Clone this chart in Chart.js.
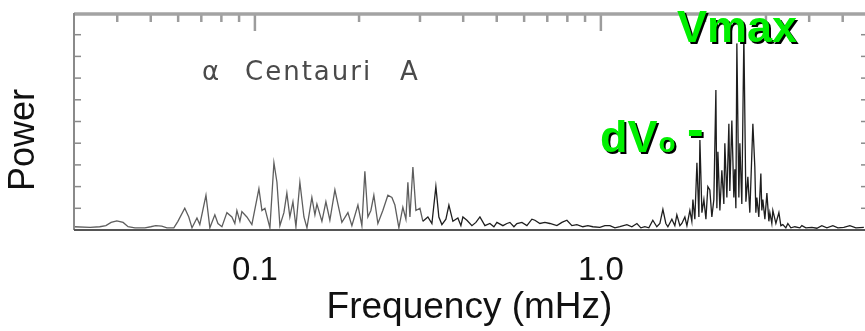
<!DOCTYPE html>
<html>
<head>
<meta charset="utf-8">
<script src="https://cdn.jsdelivr.net/npm/chart.js@4.4.1/dist/chart.umd.min.js"></script>
<style>
    html, body { margin: 0; padding: 0; background: #fff; }
    #wrap { width: 865px; height: 331px; }
</style>
</head>
<body>
<div id="wrap">
    <canvas id="chart" width="865" height="331"></canvas>
</div>
<script>
    // frequency in mHz
    const freq = [
        0.0300, 0.0334, 0.0356, 0.0371, 0.0384, 0.0399, 0.0416, 0.0430, 0.0450, 0.0481,
        0.0500, 0.0517, 0.0538, 0.0557, 0.0583, 0.0599, 0.0627, 0.0644, 0.0658, 0.0680,
        0.0693, 0.0722, 0.0741, 0.0766, 0.0782, 0.0803, 0.0830, 0.0858, 0.0875, 0.0887,
        0.0905, 0.0917, 0.0948, 0.0980, 0.1027, 0.1048, 0.1069, 0.1105, 0.1135, 0.1158,
        0.1181, 0.1213, 0.1237, 0.1262, 0.1288, 0.1314, 0.1349, 0.1386, 0.1414, 0.1461,
        0.1491, 0.1511, 0.1562, 0.1604, 0.1647, 0.1703, 0.1737, 0.1784, 0.1857, 0.1907,
        0.1985, 0.2038, 0.2079, 0.2121, 0.2164, 0.2207, 0.2267, 0.2343, 0.2423, 0.2489,
        0.2539, 0.2607, 0.2677, 0.2732, 0.2768, 0.2806, 0.2862, 0.2920, 0.2999, 0.3059,
        0.3162, 0.3248, 0.3335, 0.3402, 0.3471, 0.3565, 0.3637, 0.3735, 0.3861, 0.3939,
        0.3992, 0.4100, 0.4239, 0.4353, 0.4471, 0.4622, 0.4778, 0.4907, 0.5006, 0.5210,
        0.5350, 0.5458, 0.5606, 0.5718, 0.5912, 0.6112, 0.6319, 0.6446, 0.6664, 0.6890,
        0.7123, 0.7462, 0.7715, 0.7976, 0.8246, 0.8524, 0.8872, 0.9171, 0.9482, 0.9934,
        1.027, 1.062, 1.098, 1.135, 1.189, 1.229, 1.271, 1.305, 1.340, 1.376,
        1.413, 1.451, 1.481, 1.511, 1.541, 1.562, 1.604, 1.636, 1.658, 1.692,
        1.714, 1.749, 1.773, 1.808, 1.832, 1.845, 1.869, 1.895, 1.920, 1.933,
        1.959, 1.985, 2.012, 2.038, 2.065, 2.093, 2.121, 2.150, 2.164, 2.179,
        2.208, 2.237, 2.267, 2.282, 2.313, 2.344, 2.359, 2.391, 2.423, 2.439,
        2.456, 2.472, 2.505, 2.522, 2.555, 2.590, 2.625, 2.660, 2.695, 2.750,
        2.786, 2.805, 2.824, 2.861, 2.900, 2.919, 2.939, 2.979, 3.019, 3.059,
        3.079, 3.120, 3.141, 3.205, 3.270, 3.313, 3.357, 3.425, 3.471, 3.541,
        3.637, 3.759, 3.810, 3.913, 4.072, 4.210, 4.352, 4.500, 4.683, 4.842,
        5.038, 5.244, 5.458, 5.756
    ];
    // power (arbitrary units, axis 0..10)
    const power = [
        0.15, 0.12, 0.15, 0.2, 0.35, 0.42, 0.35, 0.15, 0.1, 0.1,
        0.15, 0.2, 0.18, 0.1, 0.1, 0.4, 1.0, 0.6, 0.1, 0.55,
        0.25, 1.6, 0.1, 0.7, 0.3, 0.15, 0.8, 0.6, 0.3, 0.9,
        0.4, 0.85, 0.6, 0.25, 1.9, 0.9, 1.0, 0.1, 3.1, 2.2,
        0.2, 0.8, 1.7, 0.6, 1.3, 0.15, 2.2, 0.6, 0.1, 1.5,
        0.7, 1.2, 0.4, 1.3, 0.45, 1.85, 1.2, 0.35, 0.8, 0.2,
        1.15, 0.2, 2.7, 0.6, 0.9, 1.6, 0.3, 0.9, 1.6, 1.5,
        1.15, 0.1, 1.05, 0.5, 2.2, 0.6, 2.9, 0.9, 1.0, 0.4,
        0.6, 0.3, 2.0, 0.6, 0.25, 0.5, 1.15, 0.4, 0.55, 0.2,
        0.6, 0.45, 0.2, 0.35, 0.6, 0.2, 0.3, 0.15, 0.35, 0.2,
        0.3, 0.35, 0.15, 0.3, 0.35, 0.2, 0.5, 0.45, 0.3, 0.35,
        0.3, 0.2, 0.35, 0.45, 0.2, 0.25, 0.15, 0.2, 0.15, 0.12,
        0.2, 0.2, 0.1, 0.15, 0.25, 0.15, 0.3, 0.1, 0.15, 0.1,
        0.45, 0.15, 0.3, 0.95, 0.3, 0.15, 0.5, 0.2, 0.7, 0.2,
        0.3, 0.6, 0.2, 0.9, 0.4, 1.4, 0.5, 3.1, 0.6, 4.15,
        0.8, 1.4, 0.5, 2.0, 1.85, 0.6, 1.4, 6.45, 1.0, 3.6,
        0.9, 2.75, 1.2, 4.0, 1.5, 4.9, 1.8, 5.05, 1.5, 2.8,
        1.0, 8.6, 1.5, 4.0, 1.2, 9.0, 1.3, 2.45, 0.8, 4.9,
        2.9, 0.8, 1.5, 0.6, 2.6, 0.9, 1.4, 0.5, 1.7, 0.4,
        0.8, 0.3, 0.9, 0.3, 0.8, 0.2, 0.25, 0.1, 0.3, 0.1,
        0.15, 0.1, 0.2, 0.1, 0.12, 0.08, 0.2, 0.1, 0.2, 0.1,
        0.12, 0.2, 0.1, 0.12
    ];

    const xLabelValues = [0.1, 1];
    const xLabels = ['0.1', '1.0'];
    const topMinorTicks = [0.04, 0.05, 0.06, 0.07, 0.08, 0.09, 0.2, 0.3, 0.4, 0.5, 0.6, 0.7, 0.8, 0.9, 2, 3, 4, 5];
    const topMajorTicks = [0.1, 1];
    const yTicks = [1, 2, 3, 4, 5, 6, 7, 8, 9];

    const FONT = '"Liberation Sans", Arial, Helvetica, sans-serif';

    // box + inward ticks, drawn like the scanned figure
    const framePlugin = {
        id: 'frame',
        afterDatasetsDraw(chart) {
            const { ctx, chartArea: a, scales } = chart;
            const x = scales.x, y = scales.y;
            ctx.save();
            ctx.lineCap = 'butt';

            ctx.strokeStyle = '#9c9c9c';
            ctx.lineWidth = 2.5;
            topMinorTicks.forEach(v => {
                const px = x.getPixelForValue(v);
                ctx.beginPath(); ctx.moveTo(px, a.top); ctx.lineTo(px, a.top + 9); ctx.stroke();
            });
            topMajorTicks.forEach(v => {
                const px = x.getPixelForValue(v);
                ctx.beginPath(); ctx.moveTo(px, a.top); ctx.lineTo(px, a.top + 18); ctx.stroke();
            });

            ctx.strokeStyle = '#8a8a8a';
            ctx.lineWidth = 1.5;
            yTicks.forEach(v => {
                const py = y.getPixelForValue(v);
                ctx.beginPath(); ctx.moveTo(a.left, py); ctx.lineTo(a.left + 7, py); ctx.stroke();
                ctx.beginPath(); ctx.moveTo(a.right - 4, py); ctx.lineTo(a.right, py); ctx.stroke();
            });

            // top
            ctx.strokeStyle = '#a3a3a3';
            ctx.lineWidth = 3.5;
            ctx.beginPath(); ctx.moveTo(a.left, a.top + 1); ctx.lineTo(a.right, a.top + 1); ctx.stroke();
            // left
            ctx.strokeStyle = '#8a8a8a';
            ctx.lineWidth = 2;
            ctx.beginPath(); ctx.moveTo(a.left, a.top); ctx.lineTo(a.left, a.bottom); ctx.stroke();
            // bottom
            ctx.strokeStyle = '#555';
            ctx.lineWidth = 2;
            ctx.beginPath(); ctx.moveTo(a.left, a.bottom); ctx.lineTo(a.right, a.bottom); ctx.stroke();
            ctx.restore();
        }
    };

    const notesPlugin = {
        id: 'notes',
        afterDraw(chart) {
            const { ctx, chartArea: a } = chart;
            ctx.save();

            // y title
            ctx.fillStyle = '#111';
            ctx.font = '36px ' + FONT;
            ctx.textAlign = 'center';
            ctx.textBaseline = 'middle';
            ctx.translate(24, 140);
            ctx.rotate(-Math.PI / 2);
            ctx.fillText('Power', 0, 0);
            ctx.setTransform(1, 0, 0, 1, 0, 0);

            // star name
            ctx.textAlign = 'left';
            ctx.textBaseline = 'alphabetic';
            ctx.fillStyle = '#4a4a4a';
            ctx.font = '26px "DejaVu Sans", sans-serif';
            ctx.letterSpacing = '2px';
            ctx.fillText('\u03B1', a.left + 128, 80);
            ctx.fillText('Centauri', a.left + 171, 80);
            ctx.fillText('A', a.left + 326, 80);
            ctx.letterSpacing = '0px';

            // green labels with hard black shadow
            ctx.fillStyle = '#00f000';
            ctx.shadowColor = '#000';
            ctx.shadowOffsetX = 2;
            ctx.shadowOffsetY = 2;
            ctx.shadowBlur = 0;
            ctx.font = 'bold 45px ' + FONT;
            ctx.fillText('Vmax', 677, 42);

            ctx.fillText('dV', 600, 152);
            const w = ctx.measureText('dV').width;
            ctx.font = 'bold 28px ' + FONT;
            ctx.fillText('o', 600 + w + 1, 152);
            ctx.font = 'bold 50px ' + FONT;
            ctx.fillText('-', 687, 146);
            ctx.restore();
        }
    };

    const points = freq.map((f, i) => ({ x: f, y: power[i] }));

    new Chart(document.getElementById('chart').getContext('2d'), {
        type: 'line',
        data: {
            datasets: [{
                label: 'alpha Cen A',
                data: points,
                borderWidth: 1.3,
                borderColor: '#333',
                pointRadius: 0,
                tension: 0,
                segment: {
                    borderColor: c => c.p0.parsed.x < 0.3 ? '#5e5e5e' : '#1e1e1e'
                }
            }]
        },
        options: {
            responsive: false,
            animation: false,
            layout: { padding: { top: 13, right: 0, left: 0, bottom: 0 } },
            plugins: {
                legend: { display: false },
                tooltip: { enabled: false }
            },
            scales: {
                x: {
                    type: 'logarithmic',
                    position: 'bottom',
                    min: 0.03,
                    max: 5.8,
                    afterBuildTicks: s => { s.ticks = xLabelValues.map(v => ({ value: v })); },
                    afterFit: s => { s.height = 101; },
                    ticks: {
                        autoSkip: false,
                        maxRotation: 0,
                        padding: 21,
                        color: '#111',
                        font: { family: FONT, size: 33 },
                        callback: (v, i) => xLabels[i]
                    },
                    grid: { display: false, drawTicks: false },
                    border: { display: false },
                    title: {
                        display: true,
                        text: 'Frequency (mHz)',
                        color: '#111',
                        font: { family: FONT, size: 37 },
                        padding: { top: 0, bottom: 1 }
                    }
                },
                y: {
                    min: 0,
                    max: 10,
                    afterFit: s => { s.width = 74; },
                    ticks: { display: false },
                    grid: { display: false, drawTicks: false },
                    border: { display: false }
                }
            }
        },
        plugins: [framePlugin, notesPlugin]
    });
</script>
</body>
</html>
